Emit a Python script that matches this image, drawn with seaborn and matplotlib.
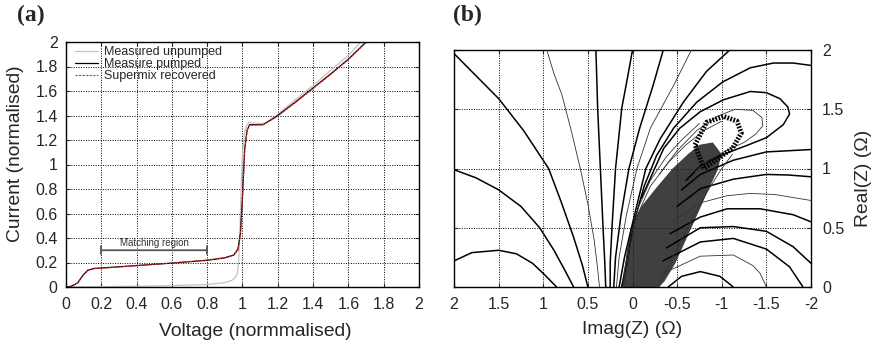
import numpy as np
import pandas as pd
import seaborn as sns
import matplotlib.pyplot as plt

# ---- panel (a): I-V curves -------------------------------------------------
v_unpumped = [0.0, 0.2, 0.5, 0.8, 0.9, 0.94, 0.96, 0.97, 0.978, 0.985, 0.992,
              1.0, 1.01, 1.02, 1.035, 1.06, 1.1, 1.13, 1.2, 1.3, 1.4, 1.5, 1.6, 1.67]
i_unpumped = [0.0, 0.003, 0.008, 0.02, 0.035, 0.055, 0.08, 0.11, 0.2, 0.45, 0.8,
              1.08, 1.25, 1.31, 1.345, 1.34, 1.335, 1.335, 1.41, 1.53, 1.645, 1.77, 1.89, 2.0]

v_pumped = [0.0, 0.028, 0.066, 0.095, 0.123, 0.16, 0.2, 0.4, 0.6, 0.8, 0.9, 0.95,
            0.974, 0.988, 0.999, 1.012, 1.026, 1.04, 1.08, 1.116, 1.19, 1.3, 1.4,
            1.5, 1.6, 1.7]
i_pumped = [0.0, 0.005, 0.033, 0.095, 0.136, 0.152, 0.155, 0.175, 0.195, 0.218,
            0.238, 0.26, 0.31, 0.435, 0.71, 1.12, 1.28, 1.325, 1.325, 1.325, 1.39,
            1.51, 1.625, 1.74, 1.86, 2.0]

v_supermix = [0.0, 0.04, 0.07, 0.1, 0.13, 0.16, 0.2, 0.4, 0.6, 0.8, 0.9, 0.95,
              0.974, 0.988, 0.999, 1.012, 1.026, 1.04, 1.08, 1.116, 1.19, 1.3, 1.4,
              1.5, 1.6, 1.7]
i_supermix = [0.0, 0.01, 0.04, 0.1, 0.138, 0.15, 0.153, 0.174, 0.196, 0.22,
              0.24, 0.262, 0.3, 0.42, 0.7, 1.11, 1.28, 1.32, 1.322, 1.325, 1.385,
              1.505, 1.62, 1.735, 1.855, 1.995]

match_start, match_end, match_y = 0.2, 0.8, 0.3

a_ticks = [0, 0.2, 0.4, 0.6, 0.8, 1, 1.2, 1.4, 1.6, 1.8, 2]
a_labels = ['0', '0.2', '0.4', '0.6', '0.8', '1', '1.2', '1.4', '1.6', '1.8', '2']

# ---- panel (b): contour lines (x = Imag, y = Real) ----
c_dome = [(2.0, 0.22), (1.8, 0.29), (1.5, 0.31), (1.3, 0.28), (1.12, 0.2),
          (0.98, 0.1), (0.85, 0.0)]
c_left2 = [(2.0, 0.99), (1.75, 0.92), (1.5, 0.82), (1.25, 0.68), (1.04, 0.5),
           (0.88, 0.31), (0.75, 0.13), (0.66, 0.0)]
c_left3 = [(2.0, 1.97), (1.75, 1.78), (1.5, 1.59), (1.22, 1.32), (0.94, 1.0),
           (0.8, 0.72), (0.66, 0.42), (0.56, 0.18), (0.5, 0.0)]
c_left4 = [(0.96, 2.0), (0.88, 1.8), (0.79, 1.62), (0.68, 1.3), (0.585, 1.0),
           (0.5, 0.7), (0.43, 0.4), (0.39, 0.15), (0.37, 0.0)]
c_left5 = [(0.41, 2.0), (0.39, 1.5), (0.36, 1.0), (0.33, 0.5), (0.31, 0.2), (0.3, 0.0)]
c_left6 = [(0.0, 2.0), (0.06, 1.75), (0.12, 1.51), (0.19, 1.0), (0.23, 0.5),
           (0.25, 0.2), (0.25, 0.0)]
c_left7 = [(-0.345, 2.0), (-0.23, 1.7), (-0.08, 1.34), (0.04, 1.0), (0.13, 0.6),
           (0.19, 0.25), (0.21, 0.0)]
c_left8 = [(-0.66, 2.0), (-0.46, 1.7), (-0.2, 1.34), (-0.05, 1.0), (0.07, 0.6),
           (0.15, 0.25), (0.18, 0.0)]
c_left9 = [(-1.09, 2.0), (-0.83, 1.82), (-0.57, 1.56), (-0.31, 1.25), (-0.15, 1.0),
           (-0.02, 0.6), (0.09, 0.25), (0.15, 0.0)]
c_top = [(0.12, 0.0), (0.06, 0.2), (0.0, 0.5), (-0.13, 0.85), (-0.27, 1.11),
         (-0.46, 1.34), (-0.72, 1.56), (-1.01, 1.73), (-1.32, 1.85), (-1.58, 1.89),
         (-1.8, 1.89), (-2.0, 1.87)]
c_hug_left = [(0.1, 0.0), (0.04, 0.3), (-0.05, 0.6), (-0.2, 0.85), (-0.4, 1.05),
              (-0.6, 1.2), (-0.8, 1.32), (-1.0, 1.4)]
c_hug_left2 = [(0.11, 0.0), (0.05, 0.35), (-0.06, 0.66), (-0.2, 0.9),
               (-0.38, 1.1), (-0.55, 1.24), (-0.75, 1.38)]
c_loop_outer = [(-0.1, 0.75), (-0.35, 1.17), (-0.53, 1.34), (-0.76, 1.48),
                (-1.02, 1.58), (-1.32, 1.65), (-1.5, 1.64), (-1.65, 1.59),
                (-1.74, 1.52), (-1.76, 1.46), (-1.69, 1.37), (-1.5, 1.26),
                (-1.3, 1.2), (-1.09, 1.14), (-0.9, 1.08), (-0.76, 1.02), (-0.6, 0.9)]
c_loop_mid = [(-0.3, 0.95), (-0.5, 1.15), (-0.72, 1.32), (-0.95, 1.44),
              (-1.15, 1.5), (-1.35, 1.49), (-1.45, 1.43), (-1.46, 1.36),
              (-1.38, 1.29), (-1.25, 1.22), (-1.05, 1.15), (-0.85, 1.07), (-0.7, 0.97)]
c_loop_tip = [(-0.7, 1.2), (-0.83, 1.39), (-1.02, 1.44), (-1.17, 1.4),
              (-1.22, 1.3), (-1.12, 1.17), (-0.95, 1.08), (-0.8, 1.0)]
c_hug_right = [(-0.28, 0.0), (-0.4, 0.18), (-0.55, 0.4), (-0.7, 0.62),
               (-0.85, 0.82), (-1.0, 1.0), (-1.12, 1.12)]
c_right1 = [(-0.55, 0.82), (-0.76, 0.95), (-1.13, 1.07), (-1.5, 1.14),
            (-1.75, 1.15), (-2.0, 1.16)]
c_right2 = [(-0.5, 0.68), (-0.76, 0.83), (-1.13, 0.91), (-1.5, 0.95),
            (-1.75, 0.945), (-2.0, 0.93)]
c_right3 = [(-0.45, 0.55), (-0.76, 0.71), (-1.06, 0.77), (-1.32, 0.79),
            (-1.6, 0.78), (-2.0, 0.73)]
c_right4 = [(-0.42, 0.45), (-0.76, 0.59), (-1.06, 0.66), (-1.43, 0.66),
            (-1.8, 0.61), (-2.0, 0.55)]
c_right5 = [(-0.38, 0.33), (-0.76, 0.5), (-1.13, 0.51), (-1.5, 0.47),
            (-1.8, 0.34), (-2.0, 0.2)]
c_right6 = [(-0.34, 0.22), (-0.76, 0.38), (-1.13, 0.41), (-1.5, 0.32),
            (-1.76, 0.17), (-1.91, 0.0)]
c_right7 = [(-0.3, 0.1), (-0.76, 0.26), (-1.13, 0.27), (-1.35, 0.18),
            (-1.43, 0.115), (-1.5, 0.0)]
c_right8 = [(-0.4, 0.0), (-0.55, 0.09), (-0.76, 0.13), (-0.98, 0.09), (-1.13, 0.0)]

tongue = [(0.13, 0.0), (0.07, 0.25), (0.02, 0.5), (-0.1, 0.68), (-0.27, 0.84),
          (-0.45, 1.0), (-0.62, 1.12), (-0.75, 1.2), (-0.9, 1.22), (-1.0, 1.12),
          (-0.95, 0.98), (-0.85, 0.82), (-0.72, 0.6), (-0.6, 0.4), (-0.48, 0.2),
          (-0.36, 0.05), (-0.3, 0.0)]

thick_lines = [c_dome, c_left2, c_left3, c_left5, c_left6, c_left7, c_left9,
               c_top, c_loop_outer, c_right1, c_right2, c_right4, c_right5,
               c_right6, c_right8]
thin_lines = [c_left4, c_left8, c_loop_mid, c_right3, c_right7,
              c_hug_left, c_hug_left2, c_hug_right]

b_ticks = [2, 1.5, 1, 0.5, 0, -0.5, -1, -1.5, -2]
b_labels = ['2', '1.5', '1', '0.5', '0', '-0.5', '-1', '-1.5', '-2']
b_yticks = [0, 0.5, 1, 1.5, 2]
b_ylabels = ['0', '0.5', '1', '1.5', '2']

# ---- styling ---------------------------------------------------------------
sns.set_style('ticks')
plt.rcParams['font.family'] = ['Liberation Sans', 'DejaVu Sans']
plt.rcParams['xtick.direction'] = 'in'
plt.rcParams['ytick.direction'] = 'in'

fig = plt.figure(figsize=(8.74, 3.45), dpi=100)
ax_a = fig.add_axes([66 / 874, 58 / 345, 353 / 874, 245 / 345])
ax_b = fig.add_axes([454 / 874, 58 / 345, 357 / 874, 237 / 345])

grid_kw = dict(color='black', linestyle=(0, (1, 1.5)), linewidth=0.7)

# panel (a)
sns.lineplot(x=v_unpumped, y=i_unpumped, ax=ax_a, sort=False, color='#c4c4c4',
             linewidth=0.9, label='Measured unpumped')
sns.lineplot(x=v_pumped, y=i_pumped, ax=ax_a, sort=False, color='black',
             linewidth=0.9, label='Measure pumped')
sns.lineplot(x=v_supermix, y=i_supermix, ax=ax_a, sort=False, color='#e8252a',
             linewidth=0.8, linestyle=(0, (2, 1.2)), label='Supermix recovered')

ax_a.annotate('', xy=(match_start, match_y), xytext=(match_end, match_y),
              arrowprops=dict(arrowstyle='|-|', color='#555555', lw=1.3,
                              mutation_scale=3, shrinkA=0, shrinkB=0))
ax_a.text((match_start + match_end) / 2, match_y + 0.02, 'Matching region',
          ha='center', va='bottom', fontsize=7, color='#333333')

ax_a.set_xlim(0, 2)
ax_a.set_ylim(0, 2)
ax_a.set_xticks(a_ticks, a_labels, fontsize=11.5)
ax_a.set_yticks(a_ticks, a_labels, fontsize=11.5)
ax_a.tick_params(top=True, right=True, length=3, width=0.8)
ax_a.tick_params(axis='x', pad=7)
ax_a.tick_params(axis='y', pad=6)
ax_a.grid(True, **grid_kw)
ax_a.set_xlabel('Voltage (normmalised)', fontsize=13.9)
ax_a.set_ylabel('Current (normalised)', fontsize=13.9)
ax_a.xaxis.set_label_coords(0.535, -0.145)
ax_a.yaxis.set_label_coords(-0.12, 0.545)
ax_a.legend(loc='upper left', bbox_to_anchor=(9 / 353, 1 - 4 / 245), frameon=False,
            fontsize=9, handlelength=1.85, handletextpad=0.45,
            labelspacing=0.0, borderaxespad=0, borderpad=0)

# panel (b)
ax_b.fill([p[0] for p in tongue], [p[1] for p in tongue], color='#1e1e1e',
          alpha=0.85, linewidth=0, zorder=2)
for line in thick_lines:
    ax_b.plot([p[0] for p in line], [p[1] for p in line], color='black',
              linewidth=1.1, zorder=3)
for line in thin_lines:
    ax_b.plot([p[0] for p in line], [p[1] for p in line], color='#333333',
              linewidth=0.6, zorder=3)
ax_b.plot([p[0] for p in c_loop_tip] + [c_loop_tip[0][0]],
          [p[1] for p in c_loop_tip] + [c_loop_tip[0][1]], color='black',
          linewidth=3.5, linestyle=(0, (0.35, 0.3)), zorder=3)

ax_b.set_xlim(2, -2)
ax_b.set_ylim(0, 2)
ax_b.set_xticks(b_ticks, b_labels, fontsize=11.5)
ax_b.yaxis.tick_right()
ax_b.yaxis.set_label_position('right')
ax_b.set_yticks(b_yticks, b_ylabels, fontsize=11.5)
ax_b.tick_params(top=True, left=True, right=True, length=3, width=0.8)
ax_b.tick_params(axis='x', pad=7)
ax_b.tick_params(axis='y', pad=8)
ax_b.grid(True, **grid_kw)
ax_b.set_xlabel('Imag(Z) (\u03a9)', fontsize=13.9)
ax_b.set_ylabel('Real(Z) (\u03a9)', fontsize=13.9)
ax_b.xaxis.set_label_coords(0.5, -0.145)
ax_b.yaxis.set_label_coords(1.123, 0.46)

for ax in (ax_a, ax_b):
    for s in ax.spines.values():
        s.set_visible(True)
        s.set_linewidth(1.0)
        s.set_color('black')

fig.text(17 / 874, 1 - 15 / 345, '(a)', fontfamily='Liberation Serif',
         fontweight='bold', fontsize=17, va='center', ha='left')
fig.text(453 / 874, 1 - 15 / 345, '(b)', fontfamily='Liberation Serif',
         fontweight='bold', fontsize=17, va='center', ha='left')

fig.savefig('out.png', dpi=100)
